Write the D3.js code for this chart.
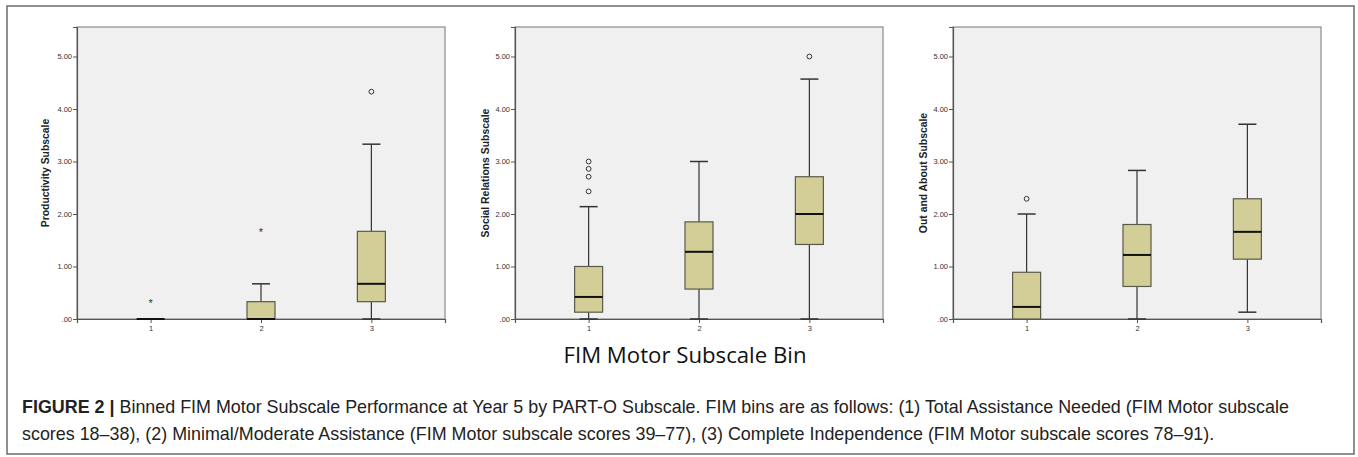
<!DOCTYPE html>
<html>
<head>
<meta charset="utf-8">
<script src="https://cdn.jsdelivr.net/npm/d3@7"></script>
<style>
  body { margin: 0; background: #fff; }
  svg { display: block; }
</style>
</head>
<body>
<div id="figure"></div>
<script>
// Bins on the x axis
let bins = ["1", "2", "3"];
let yTicks = [0, 1, 2, 3, 4, 5];

// Panel titles
let panelTitles = ["Productivity Subscale", "Social Relations Subscale", "Out and About Subscale"];

// Box statistics, one array per panel, one value per bin
let q1 = [
  [0, 0, 0.33],
  [0.13, 0.57, 1.42],
  [0, 0.62, 1.14]
];
let medians = [
  [0, 0, 0.67],
  [0.42, 1.28, 2.0],
  [0.23, 1.22, 1.66]
];
let q3 = [
  [0, 0.33, 1.67],
  [1.0, 1.85, 2.71],
  [0.89, 1.80, 2.29]
];
let whiskerLow = [
  [0, 0, 0],
  [0, 0, 0],
  [0, 0, 0.13]
];
let whiskerHigh = [
  [0, 0.67, 3.33],
  [2.14, 3.0, 4.57],
  [2.0, 2.83, 3.71]
];
// outliers (circles) and extremes (stars)
let outliers = [
  [[], [], [4.33]],
  [[2.43, 2.71, 2.86, 3.0], [], [5.0]],
  [[2.29], [], []]
];
let extremes = [
  [[0.33], [1.67], []],
  [[], [], []],
  [[], [], []]
];

let xTitle = "FIM Motor Subscale Bin";
let captionBold = "FIGURE 2 | ";
let captionLines = [
  "Binned FIM Motor Subscale Performance at Year 5 by PART-O Subscale. FIM bins are as follows: (1) Total Assistance Needed (FIM Motor subscale",
  "scores 18–38), (2) Minimal/Moderate Assistance (FIM Motor subscale scores 39–77), (3) Complete Independence (FIM Motor subscale scores 78–91)."
];

function drawFigure() {
  let svgWidth = 1358;
  let svgHeight = 457;

  let svg = d3.select("#figure")
    .append("svg")
    .attr("width", svgWidth)
    .attr("height", svgHeight);

  // outer frame
  svg.append("rect")
    .attr("x", 7).attr("y", 6)
    .attr("width", 1347).attr("height", 448)
    .attr("fill", "none")
    .attr("stroke", "#6b6b6b")
    .attr("stroke-width", 1.5);

  let panelLeft = [77, 515, 953];
  let titleOffset = [-28, -26, -26];
  let plotTop = 27;
  let plotW = 368;
  let plotH = 292;

  let y = d3.scaleLinear().domain([0, 5.562]).range([plotH, 0]);
  let x = d3.scalePoint().domain(bins).range([0, plotW]).padding(0.667);

  let boxW = 28;
  let capW = 18;

  panelTitles.forEach(function(title, p) {
    let g = svg.append("g")
      .attr("transform", `translate(${panelLeft[p]}, ${plotTop})`);

    g.append("rect")
      .attr("width", plotW).attr("height", plotH)
      .attr("fill", "#f0f0f0")
      .attr("stroke", "#8a8a8a")
      .attr("stroke-width", 1.2);

    // axes
    let yAxis = d3.axisLeft(y).tickValues(yTicks).tickSize(4).tickPadding(1)
      .tickFormat(d => d === 0 ? ".00" : d3.format(".2f")(d));
    let yg = g.append("g").call(yAxis);
    yg.select(".domain").attr("stroke", "#555").attr("stroke-width", 1.2);
    yg.selectAll(".tick line").attr("stroke", "#555");
    yg.selectAll("text").attr("font-family", "Liberation Sans, Arial, sans-serif")
      .attr("font-size", "7.5px").attr("fill", "#333");

    let xAxis = d3.axisBottom(x).tickSize(4).tickPadding(3);
    let xg = g.append("g").attr("transform", `translate(0, ${plotH})`).call(xAxis);
    xg.select(".domain").attr("stroke", "#555").attr("stroke-width", 1.2);
    xg.selectAll(".tick line").attr("stroke", "#555");
    xg.selectAll("text").attr("font-family", "Liberation Sans, Arial, sans-serif")
      .attr("font-size", "7.5px").attr("fill", "#333");

    // axis title
    g.append("text")
      .attr("transform", `translate(${titleOffset[p]}, ${plotH / 2}) rotate(-90)`)
      .attr("text-anchor", "middle")
      .attr("font-family", "Liberation Sans, Arial, sans-serif")
      .attr("font-weight", "bold")
      .attr("font-size", "10.4px")
      .attr("fill", "#222")
      .text(title);

    bins.forEach(function(b, i) {
      let cx = x(b);
      // whiskers
      g.append("line")
        .attr("x1", cx).attr("x2", cx)
        .attr("y1", y(q3[p][i])).attr("y2", y(whiskerHigh[p][i]))
        .attr("stroke", "#333").attr("stroke-width", 1.2);
      g.append("line")
        .attr("x1", cx).attr("x2", cx)
        .attr("y1", y(q1[p][i])).attr("y2", y(whiskerLow[p][i]))
        .attr("stroke", "#333").attr("stroke-width", 1.2);
      if (whiskerHigh[p][i] > q3[p][i]) {
        g.append("line")
          .attr("x1", cx - capW / 2).attr("x2", cx + capW / 2)
          .attr("y1", y(whiskerHigh[p][i])).attr("y2", y(whiskerHigh[p][i]))
          .attr("stroke", "#333").attr("stroke-width", 1.5);
      }
      if (whiskerLow[p][i] < q1[p][i]) {
        g.append("line")
          .attr("x1", cx - capW / 2).attr("x2", cx + capW / 2)
          .attr("y1", y(whiskerLow[p][i])).attr("y2", y(whiskerLow[p][i]))
          .attr("stroke", "#333").attr("stroke-width", 1.5);
      }
      // box
      g.append("rect")
        .attr("x", cx - boxW / 2)
        .attr("y", y(q3[p][i]))
        .attr("width", boxW)
        .attr("height", y(q1[p][i]) - y(q3[p][i]))
        .attr("fill", "#d3ce97")
        .attr("stroke", "#5a5a4a")
        .attr("stroke-width", 1.2);
      // median
      g.append("line")
        .attr("x1", cx - boxW / 2).attr("x2", cx + boxW / 2)
        .attr("y1", y(medians[p][i])).attr("y2", y(medians[p][i]))
        .attr("stroke", "#111").attr("stroke-width", 2);

      // outliers
      g.selectAll(null)
        .data(outliers[p][i])
        .enter()
        .append("circle")
        .attr("cx", cx)
        .attr("cy", d => y(d))
        .attr("r", 2.4)
        .attr("fill", "none")
        .attr("stroke", "#333")
        .attr("stroke-width", 1);

      g.selectAll(null)
        .data(extremes[p][i])
        .enter()
        .append("text")
        .attr("x", cx)
        .attr("y", d => y(d) + 5)
        .attr("text-anchor", "middle")
        .attr("font-family", "Liberation Sans, Arial, sans-serif")
        .attr("font-size", "11px")
        .attr("fill", "#333")
        .text("*");
    });
  });

  // shared x title
  svg.append("text")
    .attr("x", 685)
    .attr("y", 363)
    .attr("text-anchor", "middle")
    .attr("font-family", "Open Sans, Noto Sans, sans-serif")
    .attr("font-size", "22.2px")
    .attr("fill", "#111")
    .text(xTitle);

  // caption
  let cap = svg.append("g")
    .attr("font-family", "Liberation Sans, Arial, sans-serif")
    .attr("font-size", "17.9px")
    .attr("fill", "#222");

  let line1 = cap.append("text").attr("x", 22).attr("y", 413);
  line1.append("tspan").attr("font-weight", "bold").text(captionBold);
  line1.append("tspan").text(captionLines[0]);

  cap.append("text").attr("x", 22).attr("y", 440).text(captionLines[1]);
}

drawFigure();
</script>
</body>
</html>
